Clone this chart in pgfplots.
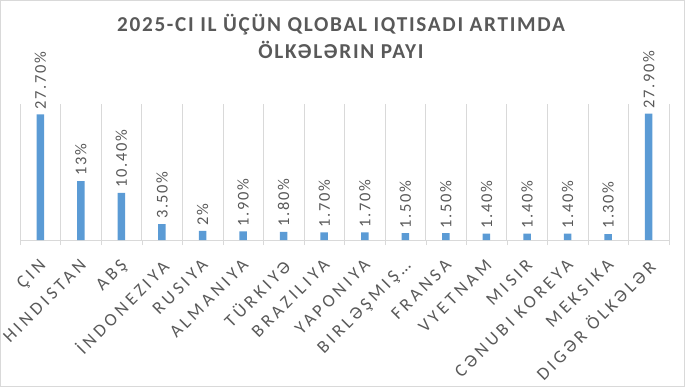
\documentclass[border=0pt]{standalone}
\usepackage{fontspec}
\setmainfont{Carlito}
\newfontfamily\lbl[LetterSpace=20]{Carlito}
\newfontfamily\dlbl[LetterSpace=10]{Carlito}
\newfontfamily\ttl[LetterSpace=8]{Carlito}
\usepackage{pgfplots}
\pgfplotsset{compat=1.18}
\usepackage{pgfplotstable}
\definecolor{barblue}{HTML}{5B9BD5}
\definecolor{txt}{HTML}{595959}
\definecolor{grd}{HTML}{D9D9D9}
\pgfplotstableread[col sep=comma]{
x,y,lab
0,27.7,27.70\%
1,13,13\%
2,10.4,10.40\%
3,3.5,3.50\%
4,2,2\%
5,1.9,1.90\%
6,1.8,1.80\%
7,1.7,1.70\%
8,1.7,1.70\%
9,1.5,1.50\%
10,1.5,1.50\%
11,1.4,1.40\%
12,1.4,1.40\%
13,1.4,1.40\%
14,1.3,1.30\%
15,27.9,27.90\%
}\datatable
\begin{document}
\begin{tikzpicture}
\useasboundingbox (0,0) rectangle (685bp,387bp);
\draw[grd] (0.5bp,0.5bp) rectangle (684.5bp,386.5bp);
\node[font=\ttl\bfseries\fontsize{21.3}{27}\selectfont, text=txt, align=center] at (341bp,350.5bp) {2025-CI IL ÜÇÜN QLOBAL IQTISADI ARTIMDA\\ÖLKƏLƏRIN PAYI};
\begin{axis}[
  at={(20bp,147bp)}, anchor=south west,
  scale only axis, width=649bp, height=136bp,
  xmin=-0.5, xmax=15.5, ymin=0, ymax=30,
  axis x line*=bottom, axis y line=none,
  x axis line style={grd, -},
  xtick={0,...,15},
  xticklabels={ÇIN, HINDISTAN, ABŞ, İNDONEZIYA, RUSIYA, ALMANIYA, TÜRKIYƏ, BRAZILIYA, YAPONIYA, BIRLƏŞMIŞ…, FRANSA, VYETNAM, MISIR, CƏNUBI KOREYA, MEKSIKA, DIGƏR ÖLKƏLƏR},
  minor xtick={-0.5,0.5,...,15.5},
  major tick length=0pt, minor tick length=5bp, tick align=outside,
  minor tick style={grd},
  minor x grid style={grd, line width=0.6bp},
  xminorgrids=true,
  xticklabel style={font=\lbl\fontsize{18}{19}\selectfont, text=txt, inner sep=0pt, xshift=-2bp, yshift=-18bp, rotate=45, anchor=north east},
  clip=false,
]
\addplot[ybar, bar width=7.5bp, fill=barblue, draw=none,
  nodes near coords, point meta=explicit symbolic,
  every node near coord/.append style={rotate=90, anchor=west, font=\dlbl\fontsize{16.5}{18}\selectfont, text=txt, inner sep=2bp, xshift=3bp}]
  table[x=x, y=y, meta=lab] {\datatable};
\end{axis}
\end{tikzpicture}
\end{document}
